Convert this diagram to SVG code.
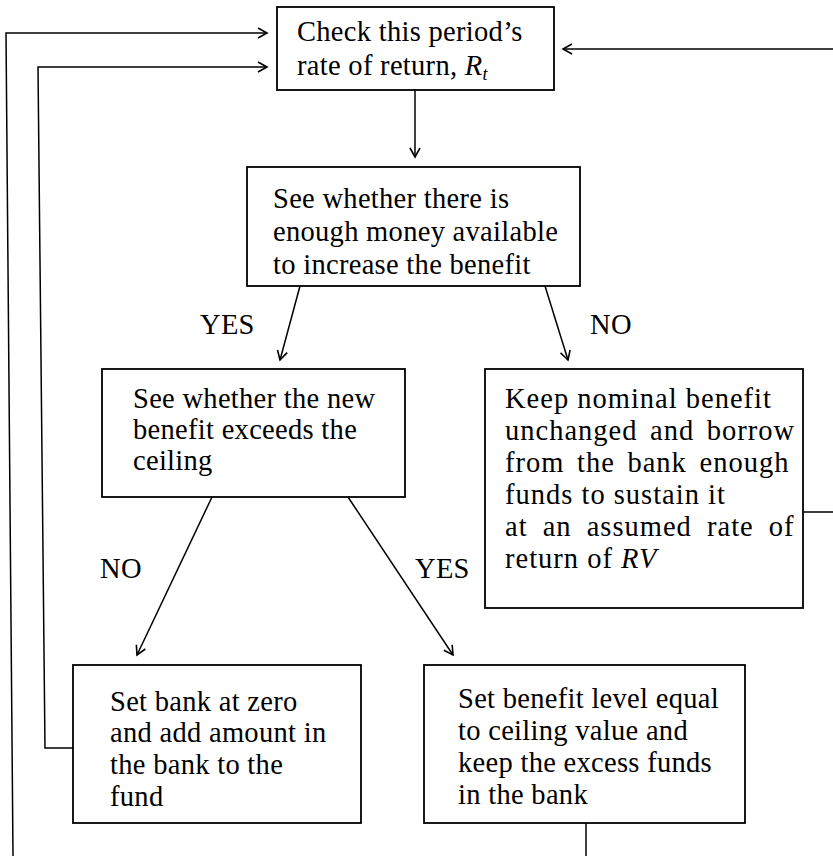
<svg xmlns="http://www.w3.org/2000/svg" width="833" height="856" viewBox="0 0 833 856">
<style>
  .box { fill: none; stroke: #000; stroke-width: 1.8; }
  .t { font-family: "Liberation Serif", "Times New Roman", serif; font-size: 28.5px; letter-spacing: 0.3px; fill: #000; }
  .k { letter-spacing: 1px; }
  .c { fill: none; stroke: #000; stroke-width: 1.5; }
  .i { font-style: italic; }
</style>
<defs>
  <marker id="arr" viewBox="-10 -6 12 12" refX="0" refY="0" markerWidth="12" markerHeight="12" markerUnits="userSpaceOnUse" orient="auto">
    <path d="M -9 -5 L 0 0 L -9 5" fill="none" stroke="#000" stroke-width="1.6"/>
  </marker>
</defs>
<rect width="833" height="856" fill="#fff"/>

<g id="connectors">
  <polyline class="c" points="13,856 6,33 267,33" marker-end="url(#arr)"/>
  <polyline class="c" points="73,748 45,748 38,67 267,67" marker-end="url(#arr)"/>
  <line class="c" x1="833" y1="49" x2="563" y2="49" marker-end="url(#arr)"/>
  <line class="c" x1="803" y1="512" x2="833" y2="512"/>
  <line class="c" x1="586" y1="823" x2="586" y2="856"/>
  <line class="c" x1="415" y1="90" x2="415" y2="157" marker-end="url(#arr)"/>
  <line class="c" x1="300" y1="286" x2="280" y2="360" marker-end="url(#arr)"/>
  <line class="c" x1="545" y1="286" x2="568" y2="360" marker-end="url(#arr)"/>
  <line class="c" x1="212" y1="497" x2="137" y2="655" marker-end="url(#arr)"/>
  <line class="c" x1="348" y1="497" x2="453" y2="655" marker-end="url(#arr)"/>
  <text class="t" x="200" y="334">YES</text>
  <text class="t" x="590" y="334">NO</text>
  <text class="t" x="100" y="578">NO</text>
  <text class="t" x="415" y="578">YES</text>
</g>

<g id="check">
  <rect class="box" x="277" y="7" width="277" height="83"/>
  <text class="t" x="297" y="41">Check this period’s</text>
  <text class="t" x="297" y="75">rate of return, <tspan class="i">R</tspan><tspan class="i" font-size="18" dy="5">t</tspan></text>
</g>

<g id="enough">
  <rect class="box" x="247" y="167" width="333" height="119"/>
  <text class="t" x="273" y="208">See whether there is</text>
  <text class="t" x="273" y="241">enough money available</text>
  <text class="t" x="273" y="274">to increase the benefit</text>
</g>

<g id="ceiling">
  <rect class="box" x="102" y="369" width="303" height="128"/>
  <text class="t" x="133" y="408">See whether the new</text>
  <text class="t" x="133" y="439">benefit exceeds the</text>
  <text class="t" x="133" y="470">ceiling</text>
</g>

<g id="keep">
  <rect class="box" x="485" y="369" width="318" height="239"/>
  <text class="t k" x="505" y="408">Keep nominal benefit</text>
  <text class="t k" x="505" y="440" word-spacing="4.5">unchanged and borrow</text>
  <text class="t k" x="505" y="472" word-spacing="4.5">from the bank enough</text>
  <text class="t k" x="505" y="504">funds to sustain it</text>
  <text class="t k" x="505" y="536" word-spacing="7">at an assumed rate of</text>
  <text class="t k" x="505" y="568">return of <tspan class="i">RV</tspan></text>
</g>

<g id="zero">
  <rect class="box" x="73" y="665" width="288" height="158"/>
  <text class="t" x="110" y="711">Set bank at zero</text>
  <text class="t" x="110" y="742">and add amount in</text>
  <text class="t" x="110" y="774">the bank to the</text>
  <text class="t" x="110" y="806">fund</text>
</g>

<g id="setceiling">
  <rect class="box" x="424" y="665" width="321" height="158"/>
  <text class="t" x="458" y="708">Set benefit level equal</text>
  <text class="t" x="458" y="740">to ceiling value and</text>
  <text class="t" x="458" y="772">keep the excess funds</text>
  <text class="t" x="458" y="804">in the bank</text>
</g>
</svg>
